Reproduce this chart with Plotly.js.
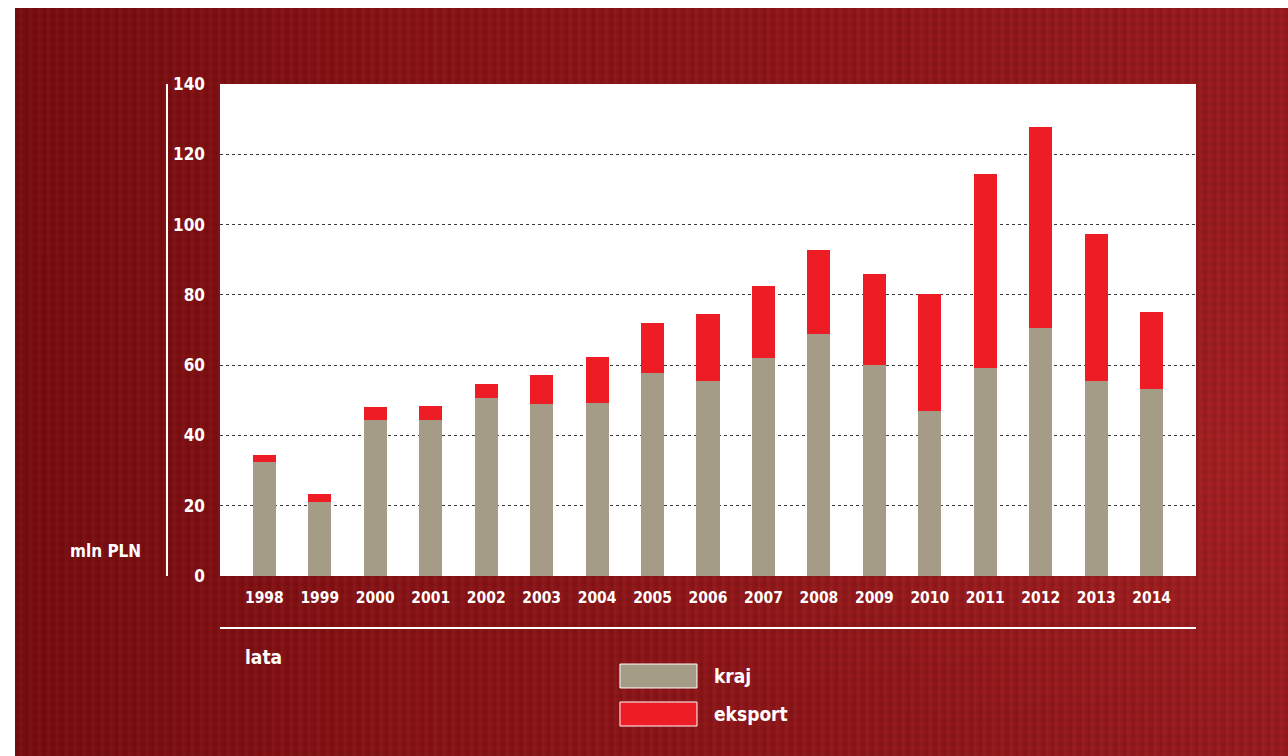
<!DOCTYPE html>
<html>
<head>
<meta charset="utf-8">
<script src="https://cdn.plot.ly/plotly-3.0.1.min.js"></script>
<style>
  html, body { margin: 0; padding: 0; background: #ffffff; width: 1288px; height: 756px; overflow: hidden; }
  #bg {
    position: absolute; left: 15px; top: 8px; width: 1273px; height: 748px;
    background:
      repeating-linear-gradient(90deg, rgba(0,0,0,0.00) 0px, rgba(0,0,0,0.07) 3px, rgba(255,255,255,0.03) 6px, rgba(0,0,0,0.00) 9px),
      repeating-linear-gradient(0deg, rgba(0,0,0,0.00) 0px, rgba(0,0,0,0.06) 4px, rgba(0,0,0,0.00) 8px),
      radial-gradient(ellipse at 95% 60%, rgba(190,40,40,0.35) 0%, rgba(0,0,0,0) 45%),
      linear-gradient(90deg, #7a0b0e 0%, #8a1215 30%, #931619 70%, #9b1a1e 100%);
  }
  #chart { position: absolute; left: 0; top: 0; width: 1288px; height: 756px; }
</style>
</head>
<body>
<div id="bg"></div>
<div id="chart"></div>
<script>
const years = ['1998','1999','2000','2001','2002','2003','2004','2005','2006','2007','2008','2009','2010','2011','2012','2013','2014'];
const kraj =    [32.4, 21.1, 44.4, 44.4, 50.7, 48.9, 49.2, 57.8, 55.5, 62.0, 68.9, 60.0, 47.0, 59.2, 70.6, 55.5, 53.2];
const eksport = [ 2.0,  2.2,  3.7,  4.0,  3.9,  8.3, 13.1, 14.2, 19.1, 20.5, 23.9, 25.9, 33.2, 55.2, 57.2, 41.8, 21.9];
const yTicks = [0, 20, 40, 60, 80, 100, 120, 140];
const seriesNames = ['kraj', 'eksport'];
const colKraj = '#a59c87';
const colEksport = '#ee1c25';

const FONT = '"DejaVu Sans Condensed", "Liberation Sans Narrow", sans-serif';

const traces = [
  { type: 'bar', name: seriesNames[0], x: years, y: kraj, marker: { color: colKraj }, width: 0.415, showlegend: false, hoverinfo: 'x+y+name' },
  { type: 'bar', name: seriesNames[1], x: years, y: eksport, marker: { color: colEksport }, width: 0.415, showlegend: false, hoverinfo: 'x+y+name' }
];

const layout = {
  width: 1288, height: 756,
  paper_bgcolor: 'rgba(0,0,0,0)',
  plot_bgcolor: '#ffffff',
  barmode: 'stack',
  margin: { l: 220, r: 92, t: 84, b: 180 },
  font: { family: FONT, color: '#ffffff', size: 16, weight: 'bold' },
  xaxis: {
    type: 'category', range: [-0.8, 16.8], showgrid: false, zeroline: false, showline: false,
    ticks: '', ticklabelstandoff: 10, tickfont: { family: FONT, size: 15.5, color: '#ffffff', weight: 'bold' }, fixedrange: true
  },
  yaxis: {
    range: [0, 140], tickvals: yTicks, showgrid: true, gridcolor: '#3a3a3a', griddash: 'dot', gridwidth: 1,
    zeroline: false, showline: false, ticks: '', ticklabelstandoff: 14,
    tickfont: { family: FONT, size: 17, color: '#ffffff', weight: 'bold' }, fixedrange: true
  },
  shapes: [
    { type: 'line', xref: 'paper', yref: 'paper', x0: -0.0543, x1: -0.0543, y0: 0, y1: 1, line: { color: '#ffffff', width: 2 } },
    { type: 'line', xref: 'paper', yref: 'paper', x0: 0, x1: 1, y0: -0.1057, y1: -0.1057, line: { color: '#ffffff', width: 2 } },
    { type: 'rect', xref: 'paper', yref: 'paper', x0: 0.4098, x1: 0.4887, y0: -0.1789, y1: -0.2276, fillcolor: colKraj, line: { color: '#ffffff', width: 1 } },
    { type: 'rect', xref: 'paper', yref: 'paper', x0: 0.4098, x1: 0.4887, y0: -0.2561, y1: -0.3049, fillcolor: colEksport, line: { color: '#ffffff', width: 1 } }
  ],
  annotations: [
    { xref: 'paper', yref: 'paper', x: -0.0789, y: 0.0508, xanchor: 'right', yanchor: 'middle', text: 'mln PLN', showarrow: false, font: { family: FONT, size: 17, color: '#ffffff', weight: 'bold' } },
    { xref: 'paper', yref: 'paper', x: 0.0236, y: -0.1646, xanchor: 'left', yanchor: 'middle', text: 'lata', showarrow: false, font: { family: FONT, size: 19, color: '#ffffff', weight: 'bold' } },
    { xref: 'paper', yref: 'paper', x: 0.504, y: -0.2033, xanchor: 'left', yanchor: 'middle', text: seriesNames[0], showarrow: false, font: { family: FONT, size: 19, color: '#ffffff', weight: 'bold' } },
    { xref: 'paper', yref: 'paper', x: 0.504, y: -0.2805, xanchor: 'left', yanchor: 'middle', text: seriesNames[1], showarrow: false, font: { family: FONT, size: 19, color: '#ffffff', weight: 'bold' } }
  ]
};

Plotly.newPlot('chart', traces, layout, { displayModeBar: false, staticPlot: true });
</script>
</body>
</html>
